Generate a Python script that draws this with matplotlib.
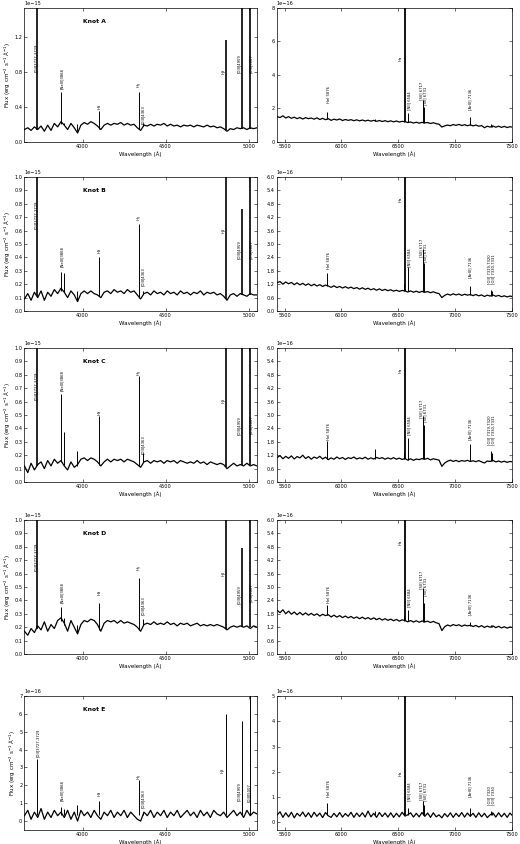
import numpy as np
import matplotlib
matplotlib.use("Agg")
import matplotlib.pyplot as plt

# ---------------- data ----------------
knots = ["Knot A", "Knot B", "Knot C", "Knot D", "Knot E"]
left_scale = [1e-15, 1e-15, 1e-15, 1e-15, 1e-16]
right_scale = [1e-16, 1e-16, 1e-16, 1e-16, 1e-16]

# sample wavelengths (Angstrom)
wl_blue = np.arange(3650, 5051, 20)
wl_red = np.arange(5435, 7511, 25)

# continuum samples (in units of the panel scale)
blue_flux = {
    "Knot A": [0.14, 0.16, 0.13, 0.17, 0.14, 0.18, 0.12, 0.19, 0.13, 0.21,
               0.17, 0.23, 0.19, 0.14, 0.21, 0.16, 0.10, 0.19, 0.22, 0.20,
               0.23, 0.21, 0.18, 0.14, 0.19, 0.21, 0.19, 0.21, 0.20, 0.22,
               0.19, 0.21, 0.19, 0.20, 0.16, 0.13, 0.19, 0.18, 0.20, 0.18,
               0.20, 0.19, 0.21, 0.18, 0.20, 0.18, 0.19, 0.17, 0.19, 0.18,
               0.19, 0.17, 0.19, 0.18, 0.17, 0.19, 0.17, 0.18, 0.16, 0.17,
               0.15, 0.12, 0.15, 0.14, 0.16, 0.15, 0.16, 0.14, 0.16, 0.15,
               0.16],
    "Knot B": [0.09, 0.13, 0.08, 0.14, 0.10, 0.15, 0.08, 0.14, 0.11, 0.16,
               0.13, 0.17, 0.14, 0.10, 0.15, 0.12, 0.07, 0.13, 0.15, 0.13,
               0.15, 0.13, 0.12, 0.10, 0.14, 0.15, 0.13, 0.16, 0.14, 0.15,
               0.13, 0.16, 0.14, 0.15, 0.12, 0.09, 0.13, 0.14, 0.12, 0.15,
               0.13, 0.14, 0.12, 0.15, 0.13, 0.14, 0.12, 0.15, 0.13, 0.14,
               0.12, 0.14, 0.13, 0.15, 0.12, 0.14, 0.13, 0.14, 0.12, 0.13,
               0.11, 0.08, 0.12, 0.13, 0.11, 0.13, 0.12, 0.11, 0.13, 0.12,
               0.12],
    "Knot C": [0.12, 0.07, 0.14, 0.09, 0.13, 0.15, 0.10, 0.16, 0.12, 0.17,
               0.14, 0.16, 0.12, 0.09, 0.15, 0.11, 0.13, 0.17, 0.18, 0.16,
               0.18, 0.17, 0.15, 0.12, 0.15, 0.17, 0.15, 0.17, 0.16, 0.17,
               0.15, 0.17, 0.16, 0.15, 0.13, 0.11, 0.15, 0.16, 0.14, 0.16,
               0.15, 0.16, 0.14, 0.16, 0.15, 0.16, 0.14, 0.16, 0.15, 0.14,
               0.15, 0.14, 0.16, 0.14, 0.15, 0.13, 0.15, 0.14, 0.13, 0.14,
               0.13, 0.10, 0.12, 0.14, 0.12, 0.13, 0.12, 0.14, 0.12, 0.13,
               0.12],
    "Knot D": [0.17, 0.14, 0.19, 0.16, 0.21, 0.18, 0.24, 0.17, 0.22, 0.19,
               0.25, 0.27, 0.23, 0.17, 0.25, 0.20, 0.15, 0.22, 0.25, 0.24,
               0.26, 0.25, 0.22, 0.17, 0.23, 0.25, 0.24, 0.25, 0.23, 0.25,
               0.23, 0.24, 0.23, 0.22, 0.20, 0.17, 0.22, 0.23, 0.22, 0.24,
               0.22, 0.23, 0.22, 0.24, 0.22, 0.23, 0.21, 0.23, 0.22, 0.23,
               0.21, 0.22, 0.23, 0.21, 0.22, 0.21, 0.22, 0.21, 0.22, 0.21,
               0.20, 0.18, 0.20, 0.21, 0.20, 0.21, 0.20, 0.21, 0.19, 0.21,
               0.20],
    "Knot E": [0.3, 0.6, 0.1, 0.5, 0.2, 0.7, 0.1, 0.5, 0.2, 0.6,
               0.3, 0.5, 0.2, 0.6, 0.1, 0.5, 0.0, 0.6, 0.3, 0.5,
               0.2, 0.6, 0.3, 0.1, 0.5, 0.3, 0.6, 0.2, 0.5, 0.3,
               0.6, 0.2, 0.5, 0.3, 0.1, 0.0, 0.5, 0.3, 0.6, 0.2,
               0.5, 0.3, 0.6, 0.2, 0.5, 0.3, 0.6, 0.2, 0.4, 0.6,
               0.3, 0.5, 0.2, 0.6, 0.3, 0.5, 0.2, 0.6, 0.4, 0.3,
               0.5, 0.2, 0.4, 0.6, 0.3, 0.5, 0.2, 0.6, 0.3, 0.5,
               0.4],
}

red_flux = {
    "Knot A": [1.50, 1.45, 1.55, 1.42, 1.50, 1.40, 1.47, 1.38, 1.45, 1.36,
               1.44, 1.38, 1.42, 1.35, 1.43, 1.33, 1.40, 1.32, 1.38, 1.28,
               1.35, 1.30, 1.36, 1.27, 1.33, 1.28, 1.32, 1.26, 1.31, 1.25,
               1.30, 1.24, 1.29, 1.23, 1.28, 1.22, 1.27, 1.21, 1.26, 1.20,
               1.25, 1.19, 1.24, 1.18, 1.22, 1.20, 1.15, 1.18, 1.12, 1.17,
               1.11, 1.16, 1.13, 1.15, 1.09, 1.14, 1.08, 1.05, 0.88, 0.95,
               1.00, 0.96, 1.03, 0.98, 1.04, 0.97, 1.02, 0.96, 1.01, 0.95,
               1.00, 0.93, 0.97, 0.84, 0.93, 0.88, 0.94, 0.87, 0.93, 0.86,
               0.92, 0.85, 0.90, 0.87],
    "Knot B": [1.27, 1.32, 1.20, 1.30, 1.22, 1.28, 1.18, 1.26, 1.17, 1.24,
               1.15, 1.22, 1.13, 1.20, 1.12, 1.18, 1.10, 1.16, 1.12, 1.06,
               1.13, 1.05, 1.10, 1.03, 1.09, 1.02, 1.07, 1.00, 1.05, 0.98,
               1.04, 0.97, 1.02, 0.95, 1.00, 0.93, 0.99, 0.92, 0.97, 0.91,
               0.95, 0.89, 0.93, 0.88, 0.92, 0.90, 0.85, 0.90, 0.84, 0.89,
               0.83, 0.88, 0.84, 0.87, 0.82, 0.86, 0.81, 0.78, 0.60, 0.70,
               0.76, 0.71, 0.77, 0.72, 0.76, 0.70, 0.75, 0.71, 0.74, 0.69,
               0.74, 0.68, 0.72, 0.65, 0.71, 0.67, 0.72, 0.66, 0.70, 0.64,
               0.68, 0.63, 0.67, 0.64],
    "Knot C": [1.10, 1.18, 1.04, 1.15, 1.06, 1.17, 1.03, 1.14, 1.08, 1.20,
               1.05, 1.14, 1.02, 1.12, 1.06, 1.15, 1.03, 1.11, 1.00, 1.08,
               1.02, 1.12, 1.04, 1.10, 1.01, 1.09, 1.05, 1.12, 1.03, 1.08,
               1.04, 1.11, 1.02, 1.08, 1.03, 1.10, 1.05, 1.09, 1.02, 1.08,
               1.03, 1.09, 1.02, 1.07, 1.01, 1.05, 0.98, 1.04, 0.97, 1.03,
               1.00, 1.05, 1.02, 1.06, 0.99, 1.04, 1.01, 0.98, 0.70, 0.85,
               0.93, 0.98, 0.92, 0.97, 0.91, 0.96, 0.93, 0.97, 0.92, 0.95,
               0.91, 0.96, 0.90, 0.85, 0.94, 0.92, 0.97, 0.90, 0.94, 0.89,
               0.93, 0.88, 0.92, 0.90],
    "Knot D": [1.95, 1.85, 1.98, 1.80, 1.92, 1.78, 1.88, 1.76, 1.86, 1.75,
               1.84, 1.74, 1.82, 1.73, 1.80, 1.70, 1.78, 1.72, 1.76, 1.66,
               1.74, 1.65, 1.72, 1.63, 1.70, 1.62, 1.68, 1.60, 1.66, 1.58,
               1.65, 1.57, 1.63, 1.55, 1.62, 1.54, 1.60, 1.52, 1.58, 1.51,
               1.56, 1.49, 1.55, 1.47, 1.53, 1.50, 1.44, 1.50, 1.43, 1.49,
               1.42, 1.48, 1.44, 1.47, 1.41, 1.46, 1.40, 1.36, 1.05, 1.22,
               1.30, 1.25, 1.32, 1.27, 1.31, 1.24, 1.30, 1.26, 1.29, 1.23,
               1.28, 1.21, 1.27, 1.19, 1.25, 1.20, 1.26, 1.18, 1.24, 1.17,
               1.22, 1.16, 1.21, 1.18],
    "Knot E": [0.30, 0.42, 0.20, 0.38, 0.22, 0.40, 0.18, 0.36, 0.25, 0.41,
               0.22, 0.38, 0.20, 0.40, 0.24, 0.37, 0.19, 0.39, 0.26, 0.20,
               0.36, 0.22, 0.39, 0.21, 0.35, 0.24, 0.40, 0.20, 0.37, 0.23,
               0.38, 0.21, 0.45, 0.22, 0.36, 0.20, 0.39, 0.23, 0.37, 0.21,
               0.38, 0.20, 0.36, 0.22, 0.40, 0.25, 0.30, 0.38, 0.21, 0.36,
               0.22, 0.39, 0.24, 0.37, 0.20, 0.38, 0.22, 0.30, 0.18, 0.35,
               0.22, 0.38, 0.20, 0.36, 0.23, 0.39, 0.21, 0.37, 0.24, 0.36,
               0.20, 0.38, 0.22, 0.36, 0.19, 0.30, 0.37, 0.21, 0.38, 0.22,
               0.36, 0.20, 0.37, 0.25],
}

# emission lines
blue_line_wl = [3727, 3868, 3889, 3968, 4101, 4340, 4363, 4861, 4959, 5007]
blue_peak = {
    "Knot A": [3.0, 0.57, 0.22, 0.20, 0.35, 0.57, 0.22, 1.16, 3.0, 3.0],
    "Knot B": [3.0, 0.29, 0.28, 0.15, 0.40, 0.65, 0.15, 3.0, 0.76, 3.0],
    "Knot C": [3.0, 0.66, 0.37, 0.23, 0.49, 0.79, 0.22, 3.0, 3.0, 3.0],
    "Knot D": [3.0, 0.35, 0.27, 0.22, 0.38, 0.57, 0.26, 3.0, 0.79, 3.0],
    "Knot E": [3.45, 0.8, 0.7, 0.9, 1.1, 2.3, 0.5, 6.0, 5.6, 12.0],
}
blue_base = {
    "Knot A": [0.14, 0.20, 0.19, 0.12, 0.15, 0.15, 0.18, 0.13, 0.15, 0.15],
    "Knot B": [0.11, 0.15, 0.14, 0.08, 0.11, 0.10, 0.13, 0.09, 0.12, 0.12],
    "Knot C": [0.12, 0.15, 0.13, 0.12, 0.13, 0.12, 0.15, 0.11, 0.13, 0.13],
    "Knot D": [0.19, 0.25, 0.22, 0.16, 0.18, 0.18, 0.22, 0.19, 0.20, 0.20],
    "Knot E": [0.35, 0.35, 0.35, 0.35, 0.35, 0.35, 0.35, 0.35, 0.35, 0.35],
}
red_line_wl = [5876, 6300, 6548, 6563, 6584, 6717, 6731, 7136, 7320, 7330]
red_peak = {
    "Knot A": [1.8, 1.35, 1.3, 20, 1.7, 2.5, 2.1, 1.5, 1.05, 1.0],
    "Knot B": [1.72, 0.98, 1.2, 20, 1.95, 2.77, 2.17, 1.1, 0.95, 0.9],
    "Knot C": [1.82, 1.5, 1.3, 20, 1.95, 2.97, 2.55, 1.7, 1.4, 1.3],
    "Knot D": [2.2, 1.6, 1.7, 20, 1.95, 2.97, 2.3, 1.45, 1.3, 1.25],
    "Knot E": [0.75, 0.45, 0.4, 20, 0.55, 0.85, 0.7, 0.55, 0.45, 0.4],
}
red_base = {
    "Knot A": [1.35, 1.23, 1.20, 1.20, 1.17, 1.14, 1.13, 1.00, 0.90, 0.90],
    "Knot B": [1.12, 0.97, 0.90, 0.90, 0.88, 0.86, 0.85, 0.72, 0.68, 0.68],
    "Knot C": [1.05, 1.05, 1.03, 1.03, 1.00, 1.02, 1.02, 0.93, 0.92, 0.92],
    "Knot D": [1.74, 1.55, 1.50, 1.50, 1.47, 1.45, 1.45, 1.27, 1.20, 1.20],
    "Knot E": [0.30, 0.30, 0.30, 0.30, 0.30, 0.30, 0.30, 0.30, 0.30, 0.30],
}

# line identifications
blue_labels = ["[OII]3727,3729", "[NeIII]3868", "H\u03b4", "H\u03b3",
               "[OIII]4363", "H\u03b2", "[OIII]4959", "[OIII]5007"]
red_labels = ["HeI 5876", "H\u03b1", "[NII] 6584", "[SII] 6717",
              "[SII] 6731", "[ArIII] 7136", "[OII] 7319,7320", "[OII] 7330,7331"]
red_labels_e = ["HeI 5876", "H\u03b1", "[NII] 6584", "[SII] 6717",
                "[SII] 6731", "[ArIII] 7136", "[OII] 7320", "[OII] 7330"]

# label anchor positions (x in Angstrom, y bottom in panel units)
blue_label_x = [3717, 3874, 4104, 4339, 4366, 4850, 4945, 5016]
blue_label_x_e = [3732, 3874, 4102, 4335, 4362, 4846, 4941, 5004]
blue_label_y = {
    "Knot A": [0.80, 0.60, 0.37, 0.62, 0.20, 0.77, 0.78, 0.78],
    "Knot B": [0.61, 0.33, 0.43, 0.68, 0.19, 0.58, 0.39, 0.39],
    "Knot C": [0.61, 0.68, 0.50, 0.80, 0.21, 0.59, 0.35, 0.36],
    "Knot D": [0.62, 0.38, 0.44, 0.63, 0.29, 0.58, 0.37, 0.39],
    "Knot E": [3.6, 1.15, 1.4, 2.35, 0.75, 2.7, 1.15, 1.05],
}
red_label_x = [5890, 6526, 6598, 6708, 6743, 7136, 7303, 7338]
red_label_y = {
    "Knot A": [2.3, 4.8, 1.9, 2.5, 2.2, 1.9, None, None],
    "Knot B": [1.9, 4.9, 1.95, 2.4, 2.2, 1.5, 1.2, 1.2],
    "Knot C": [1.9, 4.9, 2.1, 2.85, 2.7, 1.9, 1.65, 1.65],
    "Knot D": [2.3, 4.9, 2.1, 2.9, 2.6, 1.75, None, None],
    "Knot E": [1.0, 1.85, 0.85, 0.9, 0.85, 1.0, 0.7, 0.7],
}

# axis ranges / ticks (panel units)
blue_ylim = [(0, 1.53), (0, 1.0), (0, 1.0), (0, 1.0), (-0.5, 7.0)]
red_ylim = [(0, 8.0), (0, 6.0), (0, 6.0), (0, 6.0), (-0.3, 5.0)]
blue_yticks = [[0, 0.4, 0.8, 1.2], list(np.arange(0, 1.01, 0.1)),
               list(np.arange(0, 1.01, 0.1)), list(np.arange(0, 1.01, 0.1)),
               [0, 1, 2, 3, 4, 5, 6, 7]]
red_yticks = [[0, 2, 4, 6, 8], list(np.arange(0, 6.01, 0.6)),
              list(np.arange(0, 6.01, 0.6)), list(np.arange(0, 6.01, 0.6)),
              [0, 1, 2, 3, 4, 5]]
blue_xticks = [4000, 4500, 5000]
red_xticks = [5500, 6000, 6500, 7000, 7500]

# ---------------- plot ----------------
plt.rcParams['font.family'] = ['DejaVu Sans']
fig = plt.figure(figsize=(5.2, 8.44), dpi=100)

row_bottoms = [0.8320, 0.6315, 0.4289, 0.2251, 0.0166]
ax_h = 0.1588
TICK_FS = 3.6
LAB_FS = 2.7
thick_blue = {3727, 4861, 4959, 5007}


def style(ax):
    ax.tick_params(direction='in', length=2, width=0.4, labelsize=TICK_FS,
                   pad=1.5, top=True, right=True)
    for s in ax.spines.values():
        s.set_linewidth(0.5)
    off = ax.yaxis.get_offset_text()
    off.set_fontsize(TICK_FS)
    off.set_va('center')


for r, knot in enumerate(knots):
    # ---------- blue panel ----------
    sc = left_scale[r]
    ax = fig.add_axes([0.047, row_bottoms[r], 0.447, ax_h])
    ax.plot(wl_blue, np.array(blue_flux[knot]) * sc, color='k', lw=0.9)
    for w, b, p in zip(blue_line_wl, blue_base[knot], blue_peak[knot]):
        ax.vlines(w, b * sc, p * sc, color='k',
                  lw=1.2 if (w in thick_blue and r < 4) else 0.7)
    ax.set_xlim(3650, 5050)
    ax.set_xticks(blue_xticks)
    ax.set_yticks(np.array(blue_yticks[r]) * sc)
    ax.set_ylim(blue_ylim[r][0] * sc, blue_ylim[r][1] * sc)
    lx = blue_label_x_e if knot == "Knot E" else blue_label_x
    for t, x, y in zip(blue_labels, lx, blue_label_y[knot]):
        ax.text(x, y * sc, t, rotation=90, ha='center', va='bottom',
                fontsize=LAB_FS)
    ax.text(0.25, 0.9, knot, transform=ax.transAxes, fontsize=4.3,
            fontweight='bold', ha='left', va='center')
    ax.set_xlabel("Wavelength (\u00c5)", fontsize=4, labelpad=1.5)
    ax.set_ylabel("Flux (erg cm$^{-2}$ s$^{-1}$ \u00c5$^{-1}$)", fontsize=4,
                  labelpad=1.0)
    style(ax)

    # ---------- red panel ----------
    sc = right_scale[r]
    ax = fig.add_axes([0.532, row_bottoms[r], 0.452, ax_h])
    ax.plot(wl_red, np.array(red_flux[knot]) * sc, color='k', lw=0.9)
    for w, b, p in zip(red_line_wl, red_base[knot], red_peak[knot]):
        ax.vlines(w, b * sc, p * sc, color='k',
                  lw=1.3 if w == 6563 else 0.7)
    ax.set_xlim(5430, 7500)
    ax.set_xticks(red_xticks)
    ax.set_yticks(np.array(red_yticks[r]) * sc)
    ax.set_ylim(red_ylim[r][0] * sc, red_ylim[r][1] * sc)
    labs = red_labels_e if knot == "Knot E" else red_labels
    for t, x, y in zip(labs, red_label_x, red_label_y[knot]):
        if y is None:
            continue
        ax.text(x, y * sc, t, rotation=90, ha='center', va='bottom',
                fontsize=LAB_FS)
    ax.set_xlabel("Wavelength (\u00c5)", fontsize=4, labelpad=1.5)
    style(ax)

fig.savefig("out.png", dpi=100)
